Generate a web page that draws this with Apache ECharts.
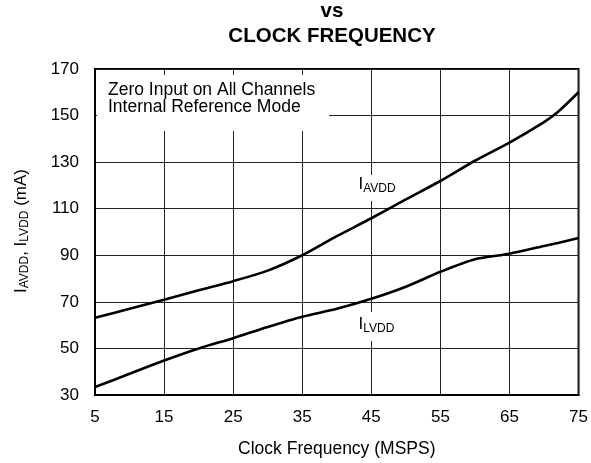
<!DOCTYPE html>
<html>
<head>
<meta charset="utf-8">
<script src="https://cdn.jsdelivr.net/npm/echarts@6/dist/echarts.min.js"></script>
<style>html,body{margin:0;padding:0;background:#fff}#c{width:591px;height:463px}</style>
</head>
<body>
<div id="c"></div>
<script>
// ---- data ----
const freq  = [5, 10, 15, 20, 25, 30, 35, 40, 45, 50, 55, 60, 65, 70, 72, 75];
const iavdd = [63.2, 67, 70.9, 75, 78.9, 83.4, 90, 98.2, 105.9, 114, 121.9, 130.6, 138.4, 147.2, 151.5, 160];
const ilvdd = [33.4, 39.1, 44.8, 50, 54.4, 59.2, 63.6, 67, 71.3, 76.5, 82.9, 88.3, 90.7, 94, 95.3, 97.4];
const xTicks = {min: 5, max: 75, interval: 10};
const yTicks = {min: 30, max: 170, interval: 20};
const titleLines = ['vs', 'CLOCK FREQUENCY'];
const noteLines = ['Zero Input on All Channels', 'Internal Reference Mode'];
const xName = 'Clock Frequency (MSPS)';
// ---------------

const FONT = '"Liberation Sans", Arial, Helvetica, sans-serif';
const cv = document.createElement('canvas').getContext('2d');
function tw(t, size, weight) { cv.font = (weight || 'normal') + ' ' + size + 'px ' + FONT; return cv.measureText(t).width; }
function txt(t, x, baseline, size, opts) {
  opts = opts || {};
  return {
    type: 'text', x: x, y: baseline - 0.35 * size, z: 3,
    style: { text: t, fontSize: size, fontFamily: FONT, fontWeight: opts.weight || 'normal',
             fill: '#000', align: opts.align || 'left', verticalAlign: 'middle' }
  };
}
// parts: [text, size, baselineOffset]
function runs(parts, x0, base) {
  const out = []; let x = x0;
  parts.forEach(p => { out.push(txt(p[0], x, base + p[2], p[1])); x += tw(p[0], p[1]); });
  return out;
}
function runsWidth(parts) { return parts.reduce((s, p) => s + tw(p[0], p[1]), 0); }

const chart = echarts.init(document.getElementById('c'), null, {renderer: 'canvas'});

const yNameParts = [['I', 17, 0], ['AVDD', 12, 2], [', ', 17, 0], ['I', 17, 0], ['LVDD', 12, 2], [' (mA)', 17, 0]];
const yNameW = runsWidth(yNameParts);

const graphic = [
  // title
  txt(titleLines[0], 332, 18.5, 20.5, {weight: 'bold', align: 'center'}),
  txt(titleLines[1], 332, 44, 20.5, {weight: 'bold', align: 'center'}),
  // note box
  { type: 'rect', z: 1, shape: {x: 97, y: 75, width: 232, height: 56}, style: {fill: '#fff'} },
  txt(noteLines[0], 108, 96.7, 17.5),
  txt(noteLines[1], 108, 113.5, 17.5),
  // I_AVDD label
  { type: 'rect', z: 1, shape: {x: 356, y: 175, width: 46, height: 26}, style: {fill: '#fff'} },
  ...runs([['I', 17, 0], ['AVDD', 12, 3.3]], 358.5, 190),
  // I_LVDD label
  { type: 'rect', z: 1, shape: {x: 356, y: 312, width: 46, height: 29}, style: {fill: '#fff'} },
  ...runs([['I', 17, 0], ['LVDD', 12, 3.3]], 358.5, 330),
  // y axis name (rotated)
  { type: 'group', x: 27, y: 231, rotation: Math.PI / 2, z: 3,
    children: runs(yNameParts, -yNameW / 2, 0) }
];

chart.setOption({
  animation: false,
  backgroundColor: '#fff',
  grid: { left: 95, right: 9, top: 69, bottom: 66, show: true, borderColor: '#000', borderWidth: 2, backgroundColor: 'transparent' },
  xAxis: {
    type: 'value', min: xTicks.min, max: xTicks.max, interval: xTicks.interval,
    name: xName, nameLocation: 'middle', nameGap: 45,
    nameTextStyle: { fontSize: 17.5, fontFamily: FONT, color: '#000' },
    axisLine: { show: true, lineStyle: { color: '#000', width: 2 } },
    axisTick: { show: false },
    axisLabel: { margin: 14, fontSize: 17, fontFamily: FONT, color: '#000' },
    splitLine: { show: true, lineStyle: { color: '#222', width: 1 } }
  },
  yAxis: {
    type: 'value', min: yTicks.min, max: yTicks.max, interval: yTicks.interval,
    axisLine: { show: true, lineStyle: { color: '#000', width: 2 } },
    axisTick: { show: false },
    axisLabel: { margin: 16, fontSize: 17, fontFamily: FONT, color: '#000' },
    splitLine: { show: true, lineStyle: { color: '#222', width: 1 } }
  },
  graphic: graphic,
  series: [
    { name: 'IAVDD', type: 'line', z: 5, smooth: 0.25, symbol: 'none',
      data: freq.map((f, i) => [f, iavdd[i]]), lineStyle: { color: '#000', width: 2.6 } },
    { name: 'ILVDD', type: 'line', z: 5, smooth: 0.25, symbol: 'none',
      data: freq.map((f, i) => [f, ilvdd[i]]), lineStyle: { color: '#000', width: 2.6 } }
  ]
});
</script>
</body>
</html>
